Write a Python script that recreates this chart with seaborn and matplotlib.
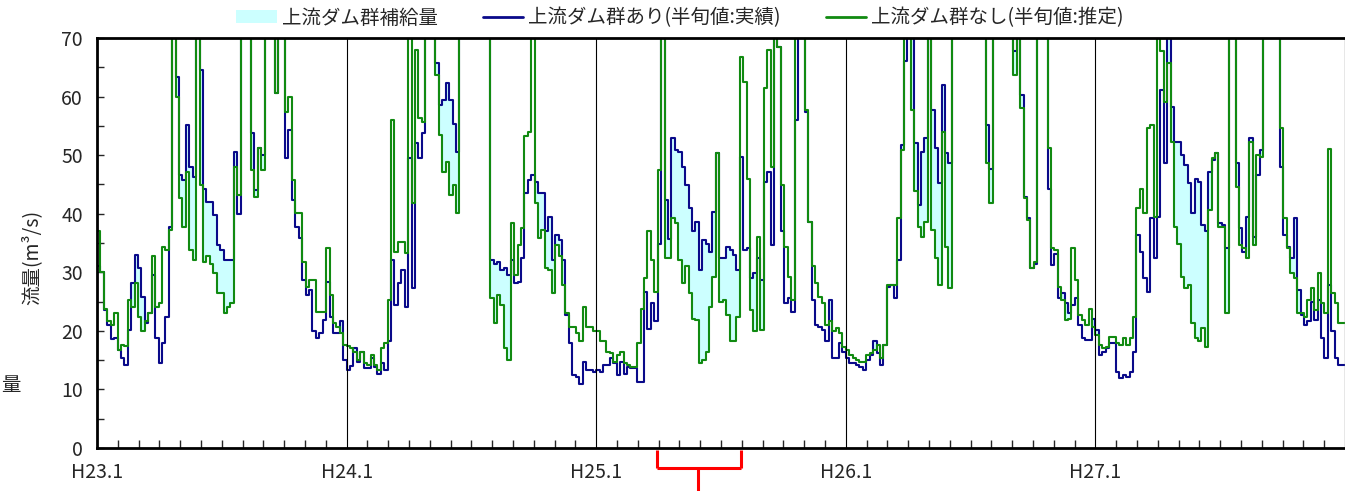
import numpy as np
import matplotlib
matplotlib.use("Agg")
import matplotlib.pyplot as plt
import seaborn as sns
from matplotlib.lines import Line2D
from matplotlib.patches import Patch

T = 80  # above the 70 upper limit (clipped in the chart)

# half-decade (半旬) flow, 73 values per year, m3/s
# with upstream dams (実績)
with_h23 = [31, 30, 23.6, 21, 18.6, 18.7, 16.7, 15.3, 14.2, 20.1, 28.1, 33, 30.7, 25.8, 21.3, 23, 29.5, 18.7, 14.5, 17.9,
            22.4, 37.8, T, 63.4, 46.6, 45.8, 55.2, 48, 46.3, T, 64.5, 44.3, 42, 42, 39.8, 34.7, 33.8, 32.1, 32.1, 32.1,
            50.6, 40, T, T, T, 53.7, 44, 51.2, 50, T, T, T, 60.6, T, T, 49.5, 54.3, 42.3, 37.8, 35.8,
            28.7, 26.1, 27, 19.9, 18.7, 19.6, 21.9, 28.4, 22.4, 19.6, 19.6, 21.6, 15]
with_h24 = [13.3, 14, 17, 14.7, 16.4, 13.6, 13.6, 15.3, 13.9, 12.7, 14.5, 13.3, 18.2, 32.1, 24.4, 28.1, 30.4, 24.1, 49.5, 27.3,
            52, 49.5, 53.7, T, T, T, 65.7, 58.6, 59.4, 62.3, 59.4, 55.4, 50.6, T, T, T, T, T, T, T,
            T, T, 32.1, 31.5, 31.8, 30.4, 30.7, 29.5, 32.1, 28.1, 28.4, 32.4, 43.5, 45.8, 46.6, 45.5, 43.5, 43.5, 37, 39.5,
            32.1, 36.4, 35.5, 32.1, 22.7, 17.9, 12.5, 12.2, 11, 14.7, 13.3, 13.3, 13]
with_h25 = [13.3, 13, 14.2, 14.2, 15.3, 14.5, 12.5, 14.7, 12.7, 13.9, 13.6, 13.6, 11.3, 11.3, 26.7, 20.4, 24.7, 21.6, 34.9, T,
            42.3, 35.6, 52.9, 50.9, 50.6, 48, 44.9, 40.9, 37, 38.6, 30.4, 35.5, 34.9, 33.5, 40.3, 50.3, 32.4, 32.4, 34.4, 33.8,
            33, 30.4, 49.7, 33.8, 34.1, 29, 29.8, 32.4, 28.7, 45.5, 47.2, 34.7, T, 68.5, 37, 24.7, 25.6, 23.3, 56, T,
            T, 57.4, 38.6, 25.3, 21, 20.7, 20.1, 18.2, 25.3, 15.3, 15.3, 17.9, 16.4]
with_h26 = [15.3, 14.5, 14.5, 14.2, 13.9, 13.3, 15, 15.9, 18.2, 16.2, 14.2, 17.6, 27.5, 27.8, 25.6, 32.1, 51.7, 66, T, T,
            52, 41.5, 50.6, 52.9, T, 57.7, 51.2, 45.2, 62, 50.3, 48.6, T, T, T, T, T, T, T, T, T,
            T, 55.2, 47.7, T, T, T, T, T, T, 67.7, T, 60.3, 42.9, 39.2, 30.7, 31.5, T, T, T, 44.3,
            31.2, 33.2, 25.6, 26.4, 24.7, 23, 24.4, 25.6, 21, 18.7, 18.4, 18.4, 22.1]
with_h27 = [20.1, 15.9, 16.4, 17, 17.9, 17.9, 13, 11.9, 12.5, 12.2, 13, 16.4, 36.4, 33.5, 29, 26.7, 39.2, 32.4, 39.5, 61.1,
            48.6, T, 58.3, 52.3, 52.3, 50, 48.4, 45.2, 40.1, 46, 45.5, 38.1, 37, 47.2, 49.2, 50.3, 38.4, 38.1, 34.1, T,
            T, 48.6, 37.5, 33.5, 39.5, 52.9, 36.1, 46.6, 50.9, T, T, T, T, T, 48, 36.4, 34.4, 32.4, 39.2, 27,
            22.7, 21, 21.6, 25, 21.9, 25.3, 18.7, 15.3, 27.8, 19.9, 15.3, 14.2, 14.2]

# without upstream dams (推定)
without_h23 = [37, 30, 23.8, 21.6, 21, 23, 16.7, 17.6, 17.4, 25.3, 24.1, 28.1, 22.4, 19.9, 21.6, 23, 32.7, 24.1, 24.7, 34.4,
               33.8, 37.2, T, 60, 42.6, 37.8, 47.2, 33.8, 32.1, T, 44.9, 31.8, 32.7, 31.5, 29.8, 26.4, 26.4, 23, 24.1, 24.7,
               48, 43.2, T, T, T, 47.5, 42.9, 51.2, 47.5, T, T, T, 60.6, T, T, 57.4, 60, 45.8, 40.1, 40.1,
               31.8, 27.5, 28.7, 28.7, 23.3, 23.3, 23.3, 34.1, 26.1, 21.3, 20.7, 19.6, 17.6]
without_h24 = [17.5, 17, 16.4, 15, 16.4, 14.5, 14.2, 15.9, 14.2, 13.3, 17, 17.9, 25.3, 56, 33.5, 35.2, 35.2, 33.3, T, 41.8,
               68, 56.3, 55.7, T, T, T, 63.7, 53.4, 47.2, 48.9, 43.2, 44.9, 40.1, T, T, T, T, T, T, T,
               T, T, 25.6, 21.3, 26.1, 24.4, 17, 15, 38.4, 29.5, 34.7, 37.5, 53.2, 54, T, 41.8, 35.8, 37.2, 30.7, 30.4,
               26.4, 34.7, 32.7, 27.8, 23, 20.7, 20.7, 19.6, 18.2, 24.1, 20.7, 20.7, 19.9]
without_h25 = [19.9, 18.2, 18.2, 16.4, 16.2, 14.7, 15.9, 16.4, 14.5, 14.2, 13.9, 13.9, 17.9, 23.8, 29, 37, 32.1, 26.7, 47.5, T,
               32.4, 32.4, 39.2, 38.4, 32.1, 28.1, 31, 26.4, 22.1, 21.9, 14.5, 15, 16.4, 24.1, 29.2, 50.3, 25, 25.3, 22.7, 18.2,
               18.2, 22.4, 66.8, 62.5, 46, 23.6, 19.9, 36.1, 20.1, 61.5, 68, 48, T, 68.5, 44.9, 34.4, 29.2, 25.3, T, T,
               T, 57.7, 38.6, 31, 28.1, 25.8, 24.7, 21, 21.6, 19.9, 20.5, 19.6, 17.3]
without_h26 = [16.7, 15.9, 15.3, 15, 14.7, 14.7, 15.9, 16.2, 16.7, 17.6, 15.3, 17.6, 27.8, 27.8, 27.8, 39.2, 50.9, T, T, 57.7,
               43.8, 37.8, 36.1, 38.6, T, 37.2, 32.4, 27.8, 54, 34.4, 27.3, T, T, T, T, T, T, T, T, T,
               T, 48.6, 41.8, T, T, T, T, T, T, 63.7, T, 58, 42.6, 38.9, 30.7, 31.8, T, T, T, 51.2,
               34.1, 33.8, 27.5, 25.3, 21.9, 22.1, 34.1, 28.7, 22.7, 21.9, 21, 23.8, 20.7]
without_h27 = [19.3, 17.6, 17, 17.3, 19, 19, 17.9, 17.6, 18.7, 17.6, 18.7, 22.4, 40.9, 44.3, 40.1, 54.6, 55.2, 39.5, T, 67.7,
               59.1, 65.7, 52.3, 37.8, 34.9, 29.2, 27.3, 27.8, 21.3, 18.7, 18.2, 20.5, 17.3, 40.6, 49.5, 50.3, 37.8, 37.8, 23, T,
               T, 44.6, 34.7, 34.1, 32.4, 52.3, 34.7, 50, 49.7, T, T, T, T, T, 54.6, 39.2, 34.1, 29.8, 29, 23,
               23, 22.4, 25.3, 27.3, 23.6, 29.8, 24.7, 23, 51, 26.4, 24.7, 21.3, 21.3]

year_labels = ["H23.1", "H24.1", "H25.1", "H26.1", "H27.1"]

with_dam = np.array(with_h23 + with_h24 + with_h25 + with_h26 + with_h27, dtype=float)
without_dam = np.array(without_h23 + without_h24 + without_h25 + without_h26 + without_h27, dtype=float)
n = len(with_dam)
x = np.arange(n + 1)
y_with = np.append(with_dam, with_dam[-1])
y_without = np.append(without_dam, without_dam[-1])

sns.set_style("ticks")
plt.rcParams['font.family'] = ['Noto Sans CJK JP', 'DejaVu Sans']

fig = plt.figure(figsize=(13.45, 4.91), dpi=100)
ax = fig.add_axes([97 / 1345, 1 - 448 / 491, 1248 / 1345, 410 / 491])

blue = "#0a0a8a"
green = "#118a11"
fill_c = "#ccffff"

ax.fill_between(x, y_without, np.maximum(y_with, y_without), step="post", color=fill_c, lw=0)
sns.lineplot(x=x, y=y_with, ax=ax, drawstyle="steps-post", color=blue, lw=1.5)
sns.lineplot(x=x, y=y_without, ax=ax, drawstyle="steps-post", color=green, lw=1.5)

ax.set_xlim(0, n)
ax.set_ylim(0, 70)

# year boundaries
for k in range(1, 5):
    ax.axvline(k * 73, color="black", lw=0.8)

ax.set_yticks(np.arange(0, 71, 10))
ax.set_yticks(np.arange(0, 71, 5), minor=True)
ax.set_xticks(np.arange(0, 5) * 73)
ax.set_xticklabels(year_labels)
ax.set_xticks([y * 73 + m * 73 / 12 for y in range(5) for m in range(1, 12)], minor=True)
ax.tick_params(axis="y", which="both", direction="in", length=5, width=1, labelsize=14, pad=10)
ax.tick_params(axis="x", which="minor", direction="in", length=6, width=1)
ax.tick_params(axis="x", which="major", direction="in", length=0, labelsize=14, pad=10)
ax.set_xlabel("")
ax.set_ylabel("")

for s in ["left", "top", "bottom"]:
    ax.spines[s].set_linewidth(2)
    ax.spines[s].set_color("black")
ax.spines["right"].set_color("#888888")
ax.spines["right"].set_linewidth(1)

fig.text(0.024, 1 - 257 / 491, "流量(m³/s)", rotation=90, ha="center", va="center", fontsize=14)
fig.text(0.008, 1 - 385 / 491, "量", ha="center", va="center", fontsize=14)

handles = [Patch(facecolor=fill_c, edgecolor="none"),
           Line2D([], [], color=blue, lw=2),
           Line2D([], [], color=green, lw=2)]
labels = ["上流ダム群補給量", "上流ダム群あり(半旬値:実績)", "上流ダム群なし(半旬値:推定)"]
fig.legend(handles, labels, loc="center", bbox_to_anchor=(680 / 1345, 1 - 18 / 491), ncol=3,
           frameon=False, fontsize=14, handlelength=2.1, handleheight=0.6, handletextpad=0.25,
           columnspacing=2.3, borderpad=0)

# red bracket under the axis
def px(xp, yp):
    return xp / 1345, 1 - yp / 491

for (x0, y0), (x1, y1) in [((657, 450), (657, 468)), ((657, 468), (741, 468)),
                           ((741, 468), (741, 450)), ((698, 468), (698, 491))]:
    a, b = px(x0, y0)
    c, d = px(x1, y1)
    fig.add_artist(Line2D([a, c], [b, d], color="red", lw=2.2, transform=fig.transFigure,
                          solid_capstyle="butt"))

fig.savefig("out.png", dpi=100)
